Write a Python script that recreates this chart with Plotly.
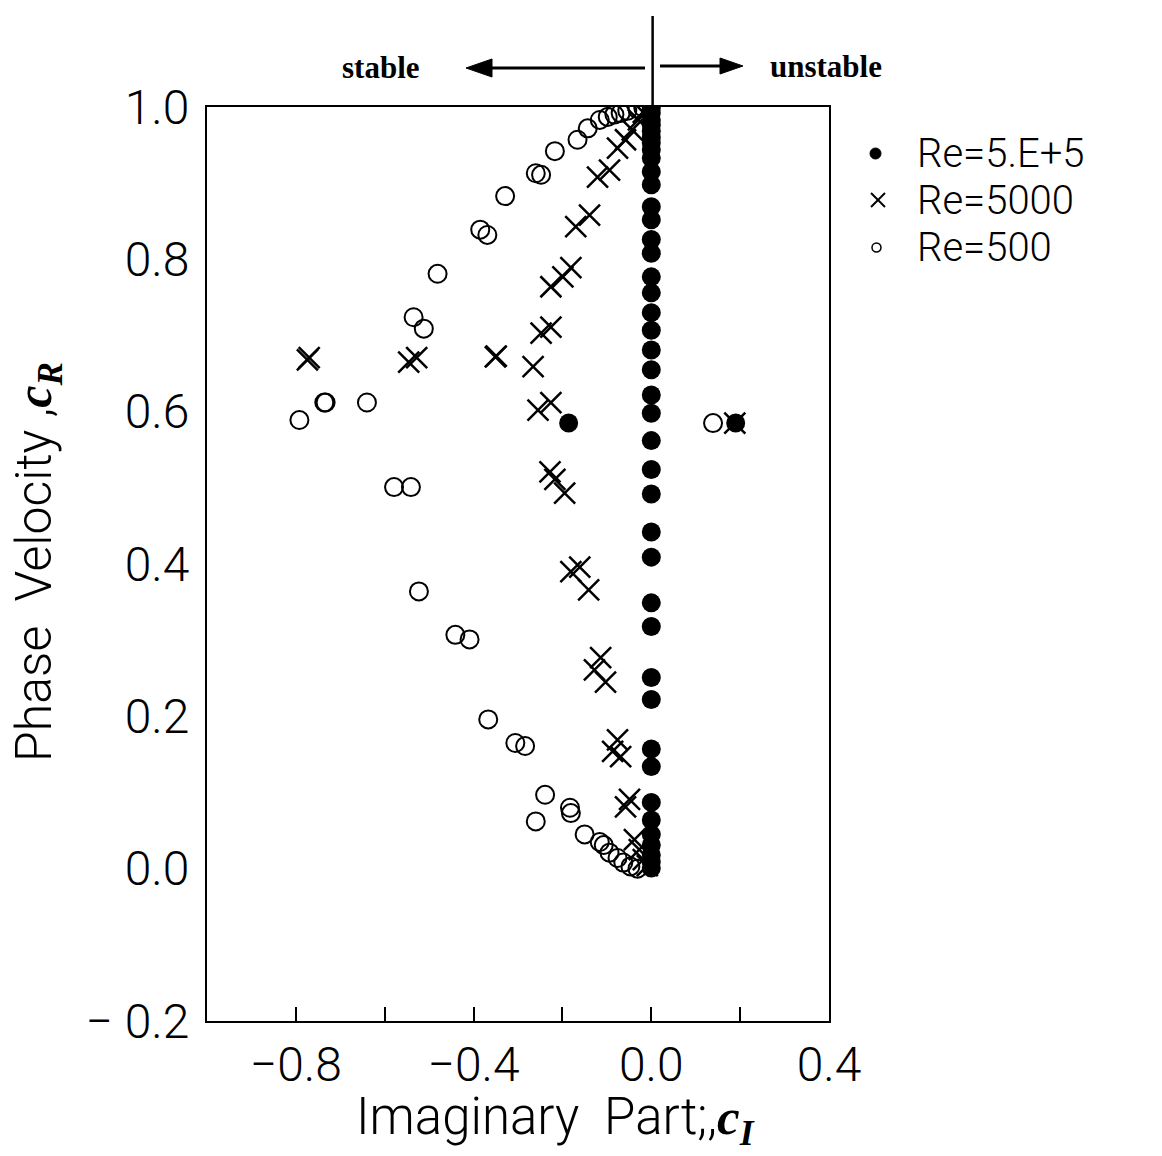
import plotly.graph_objects as go

# ---------------- data ----------------
# Re = 5.E+5 (filled dots)
re5e5_ci = [0.0] * 41 + [-0.186, 0.19]
re5e5_cr = [0.999, 0.992, 0.983, 0.976, 0.968, 0.960, 0.953, 0.944, 0.933,
            0.915, 0.898, 0.869, 0.852, 0.826, 0.808, 0.777, 0.756, 0.730,
            0.707, 0.681, 0.655, 0.622, 0.598, 0.562, 0.524, 0.492, 0.442,
            0.409, 0.349, 0.318, 0.251, 0.222, 0.157, 0.134, 0.087, 0.064,
            0.045, 0.031, 0.018, 0.009, 0.001,
            0.585, 0.585]

# Re = 5000 (crosses)
re5000_ci = [-0.774, -0.770, -0.546, -0.528, -0.351, -0.349, -0.266,
             -0.255, -0.226, -0.248, -0.226, -0.228, -0.217, -0.195,
             -0.226, -0.199, -0.181, -0.170, -0.139, -0.121, -0.094,
             -0.076, -0.058, -0.043, -0.029, -0.018, -0.009,
             -0.181, -0.161, -0.141, -0.128, -0.114, -0.103, -0.087,
             -0.076, -0.069, -0.058, -0.049, -0.038, -0.027, -0.018,
             -0.009, 0.188]
re5000_cr = [0.668, 0.671, 0.665, 0.671, 0.672, 0.673, 0.659,
             0.602, 0.612, 0.703, 0.711, 0.521, 0.511, 0.493,
             0.764, 0.777, 0.789, 0.843, 0.858, 0.908, 0.917,
             0.946, 0.957, 0.970, 0.983, 0.993, 0.999,
             0.390, 0.396, 0.366, 0.261, 0.277, 0.245, 0.154,
             0.169, 0.147, 0.081, 0.091, 0.038, 0.025, 0.012,
             0.004, 0.585]

# Re = 500 (open circles)
re500_ci = [-0.166, -0.217, -0.260, -0.248, -0.329, -0.385, -0.369,
            -0.481, -0.535, -0.512, -0.143, -0.116, -0.098, -0.083,
            -0.069, -0.054, -0.031, -0.018,
            -0.792, -0.736, -0.733, -0.640, -0.579, -0.541, -0.523,
            -0.441, -0.409, -0.367, -0.306, -0.284, -0.239, -0.260,
            -0.183, -0.181, -0.150, -0.116, -0.107, -0.094, -0.076,
            -0.063, -0.047, -0.031, 0.139]
re500_cr = [0.957, 0.942, 0.913, 0.911, 0.883, 0.839, 0.832,
            0.781, 0.724, 0.709, 0.972, 0.983, 0.987, 0.990,
            0.992, 0.995, 0.997, 0.999,
            0.589, 0.612, 0.612, 0.612, 0.501, 0.501, 0.364,
            0.307, 0.301, 0.196, 0.165, 0.161, 0.097, 0.062,
            0.080, 0.073, 0.045, 0.035, 0.031, 0.021, 0.014,
            0.008, 0.003, 0.000, 0.585]

legend_names = ["Re=5.E+5", "Re=5000", "Re=500"]
x_tickvals = [-0.8, -0.4, 0.0, 0.4]
x_ticktext = ["\u22120.8", "\u22120.4", "0.0", "0.4"]
y_tickvals = [-0.2, 0.0, 0.2, 0.4, 0.6, 0.8, 1.0]
y_ticktext = ["\u2212 0.2", "0.0", "0.2", "0.4", "0.6", "0.8", "1.0"]

FONT = "Roboto, Liberation Sans, Arial, sans-serif"
SERIF = "Liberation Serif, DejaVu Serif, serif"
W = 300  # light weight for the thin plotter-like lettering

fig = go.Figure()

fig.add_trace(go.Scatter(x=re5e5_ci, y=re5e5_cr, mode="markers", name=legend_names[0],
                         showlegend=False,
                         marker=dict(symbol="circle", size=19, color="black")))
fig.add_trace(go.Scatter(x=re5000_ci, y=re5000_cr, mode="markers", name=legend_names[1],
                         showlegend=False,
                         marker=dict(symbol="x-thin-open", size=21, color="black",
                                     line=dict(color="black", width=2.5))))
fig.add_trace(go.Scatter(x=re500_ci, y=re500_cr, mode="markers", name=legend_names[2],
                         showlegend=False,
                         marker=dict(symbol="circle-open", size=18, color="black",
                                     line=dict(color="black", width=2))))

# plot area in pixels: x 207..829, y 107..1021
PL, PR, PT, PB = 207, 829, 107, 1021


def px(xp):
    return (xp - PL) / (PR - PL)


def py(yp):
    return (PB - yp) / (PB - PT)


fig.update_layout(
    width=1162, height=1156,
    margin=dict(l=PL, r=1162 - PR, t=PT, b=1156 - PB),
    paper_bgcolor="white", plot_bgcolor="white",
    font=dict(family=FONT, size=44, color="black", weight=W),
    showlegend=False,
    xaxis=dict(range=[-1.0, 0.4], showgrid=False, zeroline=False,
               showline=True, mirror=True, linecolor="black", linewidth=2,
               ticks="inside", ticklen=14, tickwidth=2, tickcolor="black",
               tickvals=x_tickvals, ticktext=x_ticktext,
               minor=dict(ticks="inside", ticklen=14, tickwidth=2, tickcolor="black",
                          tick0=0, dtick=0.2, showgrid=False),
               tickfont=dict(family=FONT, size=48, weight=W)),
    yaxis=dict(range=[-0.2, 1.0], showgrid=False, zeroline=False,
               showline=True, mirror=True, linecolor="black", linewidth=2,
               ticks="", tickvals=y_tickvals, ticktext=y_ticktext,
               ticklabelstandoff=6,
               tickfont=dict(family=FONT, size=48, weight=W)),
)

cI = "<span style=\"font-family:Liberation Serif\"><b><i>c<sub>I</sub></i></b></span>"
cR = "<span style=\"font-family:Liberation Serif\"><b><i>c<sub>R</sub></i></b></span>"

annotations = [
    dict(text="Imaginary  Part;," + cI,
         xref="paper", yref="paper", x=px(555), y=py(1120),
         xanchor="center", yanchor="middle", showarrow=False,
         font=dict(family=FONT, size=51, weight=W)),
    dict(text="Phase  Velocity ," + cR,
         xref="paper", yref="paper", x=px(37), y=py(562),
         xanchor="center", yanchor="middle", textangle=-90, showarrow=False,
         font=dict(family=FONT, size=50, weight=W)),
    dict(text="<b>stable</b>", xref="paper", yref="paper",
         x=px(381), y=py(68), xanchor="center", yanchor="middle",
         showarrow=False, font=dict(family=SERIF, size=31)),
    dict(text="<b>unstable</b>", xref="paper", yref="paper",
         x=px(826), y=py(66), xanchor="center", yanchor="middle",
         showarrow=False, font=dict(family=SERIF, size=31)),
]

# hand-placed legend (reference rows are tighter than Plotly's legend allows)
leg_rows = [153, 200, 247]
for name, yp in zip(legend_names, leg_rows):
    annotations.append(dict(text=name, xref="paper", yref="paper",
                            x=px(916), y=py(yp), xanchor="left", yanchor="middle",
                            showarrow=False, borderpad=0,
                            font=dict(family=FONT, size=40, weight=W)))
fig.update_layout(annotations=annotations)


def tri(points):
    return "M " + " L ".join(f"{px(a):.5f},{py(b):.5f}" for a, b in points) + " Z"


shapes = [
    # vertical divider at c_I = 0 above the plot
    dict(type="line", xref="x", yref="paper", x0=0.003, x1=0.003,
         y0=1.0, y1=py(16), line=dict(color="black", width=2.5)),
    # stable arrow (pointing left)
    dict(type="line", xref="paper", yref="paper", x0=px(488), x1=px(645),
         y0=py(68), y1=py(68), line=dict(color="black", width=3)),
    dict(type="path", xref="paper", yref="paper",
         path=tri([(466, 68), (492, 59), (492, 77)]),
         fillcolor="black", line=dict(color="black", width=1)),
    # unstable arrow (pointing right)
    dict(type="line", xref="paper", yref="paper", x0=px(660), x1=px(724),
         y0=py(66), y1=py(66), line=dict(color="black", width=3)),
    dict(type="path", xref="paper", yref="paper",
         path=tri([(743, 66), (720, 58), (720, 74)]),
         fillcolor="black", line=dict(color="black", width=1)),
    # legend symbols
    dict(type="circle", xref="paper", yref="paper",
         x0=px(870), x1=px(881), y0=py(148), y1=py(159),
         fillcolor="black", line=dict(color="black", width=1)),
    dict(type="line", xref="paper", yref="paper",
         x0=px(871), x1=px(885), y0=py(193), y1=py(207),
         line=dict(color="black", width=2)),
    dict(type="line", xref="paper", yref="paper",
         x0=px(871), x1=px(885), y0=py(207), y1=py(193),
         line=dict(color="black", width=2)),
    dict(type="circle", xref="paper", yref="paper",
         x0=px(872), x1=px(881), y0=py(243), y1=py(252),
         line=dict(color="black", width=1.5)),
]
fig.update_layout(shapes=shapes)

fig.write_html("out.html")
